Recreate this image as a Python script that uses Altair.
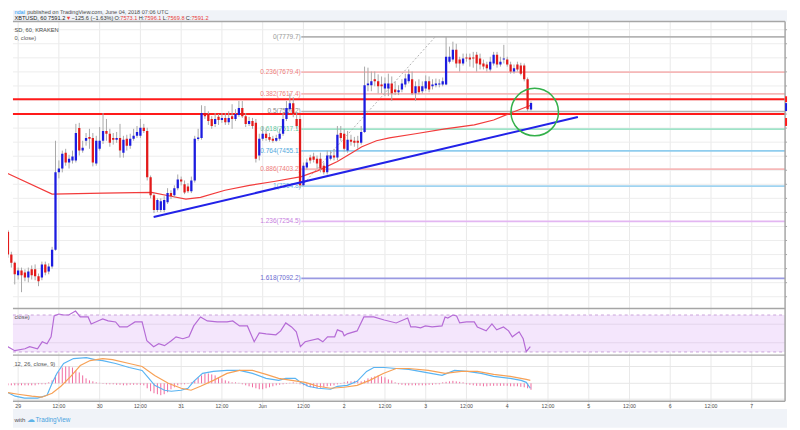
import altair as alt
import pandas as pd

# ---------------- scales: data units spanning the 792 x 422 drawing area ----------------
X_DOMAIN = [-1.5252, 226.388]      # hours since 29 May 2018 00:00 UTC
PRICE_DOMAIN = [6666.74, 7855.78]  # USD
RSI_DOMAIN = [-52.25, 400.29]
MACD_DOMAIN = [-90, 754]
XL, XR, XAX = X_DOMAIN[0], X_DOMAIN[1], 225.81   # XAX = price-axis line

# ---------------- candles (hourly, XBTUSD Kraken) ----------------
hours = list(range(-3, 152))
opens = [7225, 7160, 7137, 7101, 7115, 7109, 7095, 7118, 7118, 7098,
         7095, 7132, 7112, 7126, 7174, 7394, 7405, 7450, 7422, 7428,
         7428, 7520, 7456, 7484, 7495, 7492, 7419, 7461, 7484, 7512,
         7504, 7492, 7487, 7492, 7450, 7490, 7470, 7490, 7498, 7498,
         7521, 7512, 7380, 7329, 7287, 7287, 7287, 7309, 7335, 7329,
         7349, 7374, 7360, 7354, 7340, 7371, 7489, 7492, 7563, 7560,
         7546, 7532, 7552, 7543, 7549, 7537, 7554, 7546, 7557, 7577,
         7554, 7532, 7540, 7535, 7442, 7490, 7504, 7495, 7490, 7484,
         7490, 7504, 7546, 7574, 7591, 7546, 7546, 7357, 7408, 7436,
         7439, 7433, 7433, 7413, 7394, 7433, 7442, 7436, 7506, 7504,
         7456, 7487, 7484, 7484, 7478, 7509, 7642, 7642, 7659, 7653,
         7644, 7633, 7633, 7647, 7630, 7622, 7630, 7644, 7653, 7659,
         7619, 7639, 7625, 7633, 7653, 7639, 7642, 7644, 7644, 7644,
         7709, 7715, 7743, 7715, 7704, 7721, 7721, 7721, 7729, 7718,
         7704, 7701, 7687, 7704, 7729, 7701, 7715, 7715, 7701, 7681,
         7701, 7698, 7698, 7659, 7573.1]
highs = [7230, 7168, 7140, 7123, 7123, 7118, 7123, 7129, 7132, 7106,
         7140, 7140, 7135, 7182, 7484, 7428, 7456, 7461, 7444, 7456,
         7532, 7535, 7484, 7506, 7518, 7506, 7498, 7523, 7563, 7546,
         7518, 7506, 7509, 7532, 7498, 7501, 7504, 7518, 7526, 7546,
         7532, 7521, 7385, 7335, 7320, 7320, 7326, 7349, 7343, 7357,
         7388, 7382, 7371, 7363, 7382, 7498, 7518, 7585, 7583, 7568,
         7554, 7563, 7560, 7563, 7563, 7568, 7588, 7574, 7597, 7597,
         7563, 7552, 7549, 7546, 7504, 7526, 7518, 7506, 7498, 7501,
         7518, 7563, 7597, 7619, 7608, 7563, 7557, 7422, 7433, 7444,
         7450, 7442, 7450, 7422, 7456, 7456, 7461, 7526, 7526, 7518,
         7512, 7501, 7495, 7498, 7526, 7695, 7692, 7681, 7681, 7673,
         7667, 7664, 7675, 7667, 7653, 7642, 7659, 7675, 7687, 7681,
         7653, 7659, 7653, 7670, 7667, 7659, 7661, 7659, 7664, 7779.7,
         7752, 7766, 7760, 7723, 7732, 7732, 7732, 7737, 7737, 7732,
         7715, 7709, 7723, 7737, 7737, 7723, 7757, 7723, 7709, 7701,
         7709, 7706, 7704, 7664, 7596.1]
lows = [7151, 7123, 7075, 7089, 7053, 7084, 7081, 7089, 7087, 7070,
        7087, 7101, 7104, 7120, 7171, 7377, 7394, 7413, 7405, 7419,
        7422, 7442, 7450, 7470, 7461, 7411, 7413, 7456, 7475, 7484,
        7467, 7473, 7478, 7436, 7436, 7456, 7461, 7484, 7492, 7492,
        7506, 7371, 7320, 7278, 7281, 7281, 7281, 7304, 7318, 7323,
        7343, 7357, 7332, 7335, 7335, 7365, 7484, 7487, 7546, 7529,
        7518, 7523, 7529, 7535, 7529, 7529, 7518, 7540, 7552, 7549,
        7523, 7526, 7518, 7422, 7428, 7484, 7484, 7481, 7478, 7481,
        7484, 7498, 7540, 7568, 7551, 7518, 7349, 7354.8, 7402, 7419,
        7422, 7405, 7394, 7388, 7388, 7428, 7428, 7428, 7484, 7453,
        7450, 7470, 7467, 7461, 7473, 7506, 7625, 7625, 7639, 7619,
        7619, 7611, 7611, 7597, 7614, 7614, 7622, 7636, 7647, 7614,
        7597, 7616, 7619, 7625, 7622, 7630, 7636, 7636, 7639, 7642,
        7704, 7709, 7692, 7681, 7698, 7709, 7695, 7692, 7681, 7687,
        7687, 7681, 7681, 7698, 7692, 7695, 7704, 7695, 7675, 7675,
        7681, 7670, 7653, 7568, 7569.8]
closes = [7160, 7137, 7104, 7115, 7101, 7095, 7112, 7101, 7098, 7084,
          7132, 7109, 7126, 7174, 7394, 7405, 7447, 7422, 7433, 7439,
          7506, 7456, 7464, 7492, 7490, 7422, 7484, 7484, 7512, 7504,
          7478, 7487, 7492, 7456, 7487, 7470, 7490, 7498, 7509, 7521,
          7512, 7380, 7329, 7287, 7315, 7312, 7315, 7335, 7326, 7349,
          7374, 7368, 7337, 7340, 7371, 7490, 7493, 7563, 7554, 7540,
          7526, 7546, 7543, 7549, 7537, 7549, 7546, 7560, 7577, 7554,
          7532, 7540, 7526, 7433, 7490, 7504, 7492, 7487, 7484, 7492,
          7504, 7546, 7577, 7591, 7560, 7526, 7357, 7413, 7422, 7428,
          7430, 7419, 7405, 7394, 7442, 7442, 7436, 7501, 7492, 7461,
          7487, 7481, 7478, 7478, 7509, 7642, 7647, 7653, 7653, 7639,
          7639, 7647, 7647, 7619, 7622, 7628, 7647, 7661, 7673, 7619,
          7639, 7622, 7639, 7653, 7630, 7644, 7647, 7647, 7653, 7723,
          7723, 7743, 7704, 7704, 7718, 7718, 7715, 7718, 7704, 7701,
          7695, 7690, 7709, 7729, 7701, 7709, 7718, 7701, 7681, 7690,
          7687, 7675, 7659, 7574, 7591.2]
assert len(opens) == len(highs) == len(lows) == len(closes) == len(hours)

# ---------------- moving average ----------------
ma_hours = [-3.8, 10.0, 25.0, 39.3, 45.0, 49.4, 53.7, 60.9, 68.1, 75.3, 83.4, 88.3,
            94.0, 98.3, 101.2, 105.5, 109.3, 117.0, 125.7, 134.3, 140.0, 145.0, 149.6, 151.0]
ma_values = [7394, 7332, 7335, 7337, 7326, 7318, 7323, 7343, 7357, 7368, 7382, 7399,
             7425, 7450, 7467, 7484, 7492, 7504, 7518, 7529, 7543, 7563, 7580, 7585]

# ---------------- Fibonacci retracement ----------------
fib_labels = ["0(7779.7)", "0.236(7679.4)", "0.382(7617.4)", "0.5(7567.2)", "0.618(7517.1)",
              "0.764(7455.1)", "0.886(7403.2)", "1(7354.8)", "1.236(7254.5)", "1.618(7092.2)"]
fib_prices = [7779.7, 7679.4, 7617.4, 7567.2, 7517.1, 7455.1, 7403.2, 7354.8, 7254.5, 7092.2]
fib_line_colors = ["#b4b4b4", "#f6b8b8", "#f6b8b8", "#b4b4b4", "#9fe3c8",
                   "#8fcdee", "#f6b8b8", "#9fd3f0", "#e3b6f2", "#9a9ae2"]
fib_text_colors = ["#9a9a9a", "#ef7d7d", "#ef7d7d", "#8a8a8a", "#5cc79c",
                   "#55a9dc", "#ef7d7d", "#68b6e4", "#c77ee0", "#6a6ad0"]
fib_start, fib_end = 83.37, XAX
fib_swing_hours = [83.4, 122.8]
fib_swing_prices = [7354.8, 7779.7]

# ---------------- user drawings ----------------
red_levels = [7602, 7560]
trend_hours = [39.9, 164.8]
trend_prices = [7266.9, 7551.5]
circle_hour, circle_price = 152.1, 7565.6

# ---------------- RSI ----------------
rsi_hours = [-3.8, -3.0, -1.0, 2.0, 3.4, 5.7, 7.1, 8.5, 9.7, 10.6, 12.0, 13.4, 14.9, 16.9, 18.3,
             20.6, 21.5, 23.5, 24.9, 26.5, 28.7, 29.9, 31.3, 32.1, 34.4, 36.5, 37.9, 39.9, 41.4,
             43.1, 45.1, 46.5, 48.5, 50.3, 51.7, 53.7, 55.7, 58.6, 61.5, 63.2, 65.2, 67.5, 69.5,
             71.0, 73.0, 75.9, 77.3, 78.8, 80.5, 81.9, 83.1, 84.5, 88.3, 89.7, 91.1, 93.2, 94.0,
             95.5, 96.0, 96.9, 99.8, 101.8, 104.7, 107.8, 111.3, 114.7, 115.6, 117.0, 118.5,
             119.9, 121.9, 124.8, 125.7, 126.5, 128.0, 129.1, 130.0, 132.0, 134.3, 135.2, 137.8,
             139.5, 140.9, 142.9, 144.4, 145.5, 147.5, 148.7, 149.6, 150.8]
rsi_values = [40.0, 35.7, 31.4, 33.5, 35.7, 33.5, 41.0, 38.9, 46.4, 68.9, 71.1, 70.0, 70.0, 74.3,
              67.9, 67.9, 60.3, 63.6, 65.7, 63.6, 62.5, 57.1, 57.1, 57.1, 62.5, 62.5, 42.1, 35.7,
              38.9, 36.8, 42.1, 46.4, 44.3, 46.4, 58.2, 67.9, 63.6, 62.5, 62.5, 63.6, 58.2, 58.2,
              41.0, 50.7, 49.6, 48.6, 52.8, 61.4, 57.1, 51.8, 35.7, 41.0, 44.3, 41.0, 46.4, 46.4,
              53.9, 51.8, 47.5, 49.6, 52.8, 67.9, 67.9, 64.6, 61.4, 66.8, 57.1, 57.1, 56.1, 58.2,
              57.1, 58.2, 67.9, 66.8, 70.0, 68.9, 61.4, 62.5, 62.5, 57.1, 52.8, 60.3, 53.9, 57.1,
              52.8, 46.4, 51.8, 44.3, 30.3, 35.7]

# ---------------- MACD (12, 26, close, 9) ----------------
macd_hours = [-3.8, -0.9, 1.9, 5.7, 8.5, 10.0, 11.4, 13.4, 16.3, 20.1, 22.6, 24.9, 28.7, 32.7,
              36.5, 38.5, 40.2, 43.1, 45.1, 48.0, 50.0, 51.7, 54.3, 57.5, 61.5, 65.2, 69.0, 73.0,
              76.7, 78.8, 81.6, 83.1, 85.4, 88.3, 92.0, 94.0, 96.9, 99.8, 102.6, 104.7, 107.8,
              111.3, 115.0, 119.9, 124.8, 128.5, 132.3, 136.3, 140.0, 144.9, 148.1, 149.6, 150.8]
macd_values = [-16, -26, -30, -30, -24, 0, 20, 40, 50, 52, 48, 46, 40, 32, 26, 10, -4, -14, -16,
               -14, -10, 4, 20, 24, 26, 26, 20, 10, 6, 10, 10, 2, -6, -10, -12, -6, -4, 4, 24, 32,
               32, 30, 28, 22, 16, 26, 24, 20, 14, 10, 6, 2, -10]
sig_hours = [-3.8, 0.0, 4.0, 7.0, 10.0, 12.6, 15.5, 18.3, 21.2, 24.9, 27.8, 32.7, 36.5, 40.2,
             44.2, 48.0, 50.9, 53.7, 57.5, 61.5, 65.2, 69.0, 73.0, 76.7, 80.5, 84.5, 88.3, 92.0,
             96.0, 99.8, 103.5, 107.5, 111.3, 115.0, 120.8, 125.7, 130.5, 135.2, 140.0, 144.9,
             149.6, 150.8]
sig_values = [-18, -22, -26, -28, -20, -6, 14, 36, 46, 50, 48, 40, 34, 16, 0, -10, -14, -6, 6,
              20, 26, 26, 18, 10, 6, 2, -6, -10, -8, -4, 6, 20, 30, 30, 26, 20, 24, 24, 18, 14,
              8, 6]
hist_values = ([-4] * 9 + [-2, -2, -2] + [2] +
               [6, 16, 24, 32, 34, 34, 32, 26, 22, 16, 10, 6, 4, 2, 1] +
               [-1, -2, -2, -2, -3, -3, -4, -4, -3, -3, -3, -3, -4] +
               [-10, -16, -20, -22, -24, -22, -18, -12, -8, -4, -2, -2, -1] +
               [2, 6, 12, 16, 20, 20, 18, 16, 12, 10, 6, 4, 2, 2, 1] +
               [-2, -4, -6, -8, -10, -12, -12, -10, -8, -6, -4, -3, -2, -1, 1] +
               [2, 1, -2] +
               [-4, -6, -8, -9, -10, -9, -8, -6, -5, -4, -2, -1] +
               [2, 4, 4, 5, 5, 4] +
               [6, 10, 12, 14, 16, 14, 12, 8, 6, 2] +
               [-2, -3, -4, -4, -4, -4, -4, -4, -4, -3, -3, -2, -2] +
               [2, 3, 4, 5, 4, 3, 2] +
               [-2, -3, -4, -5, -5, -6, -6, -5, -5, -5, -5, -5, -5, -6, -6, -6, -7, -8, -10, -13])
assert len(hist_values) == len(hours)

# ---------------- axes / grid ----------------
time_ticks = [0, 12, 24, 36, 48, 60, 72, 84, 96, 108, 120, 132, 144, 156, 168, 180, 192, 204, 216]
time_labels = ["29", "12:00", "30", "12:00", "31", "12:00", "Jun", "12:00", "2", "12:00",
               "3", "12:00", "4", "12:00", "5", "12:00", "6", "12:00", "7"]
grid_prices = [7040, 7080, 7120, 7160, 7200, 7240, 7280, 7320, 7360, 7400, 7440, 7480,
               7520, 7560, 7600, 7640, 7680, 7720, 7760, 7800]
rsi_grid = [60, 40]
macd_grid = [34, 0, -32]
pane_lines = [7823.4, 7006.3, 6873.8, 6742.8]   # top border, RSI / MACD separators, time axis

FONT = "Liberation Sans"


def xq(f):
    return alt.X(f"{f}:Q", scale=alt.Scale(domain=X_DOMAIN, nice=False, zero=False), axis=None)


def yq(f, dom):
    return alt.Y(f"{f}:Q", scale=alt.Scale(domain=dom, nice=False, zero=False), axis=None)


layers = []

# background bars (header / footer)
bars = pd.DataFrame({"h0": [XL, XL], "h1": [XR, XR], "p0": [7823.4, 6666.74], "p1": [7855.78, 6720.2]})
layers.append(alt.Chart(bars).mark_rect(color="#f0f3f8").encode(
    x=xq("h0"), x2="h1", y=yq("p0", PRICE_DOMAIN), y2="p1"))

# vertical grid
vg = pd.DataFrame({"h": time_ticks, "p0": 6720.2, "p1": 7823.4})
layers.append(alt.Chart(vg).mark_rule(color="#e9e9e9", strokeWidth=1).encode(
    x=xq("h"), y=yq("p0", PRICE_DOMAIN), y2="p1"))
# price grid
pg = pd.DataFrame({"p": grid_prices, "h0": XL, "h1": XAX})
layers.append(alt.Chart(pg).mark_rule(color="#ededed", strokeWidth=1).encode(
    x=xq("h0"), x2="h1", y=yq("p", PRICE_DOMAIN)))
# RSI band and grid
band = pd.DataFrame({"h0": [XL], "h1": [XAX], "r0": [30], "r1": [70]})
layers.append(alt.Chart(band).mark_rect(color="#f4e6fc").encode(
    x=xq("h0"), x2="h1", y=yq("r0", RSI_DOMAIN), y2="r1"))
rg = pd.DataFrame({"r": rsi_grid, "h0": XL, "h1": XAX})
layers.append(alt.Chart(rg).mark_rule(color="#e4d4ec", strokeWidth=1).encode(
    x=xq("h0"), x2="h1", y=yq("r", RSI_DOMAIN)))
rd = pd.DataFrame({"r": [70, 30], "h0": XL, "h1": XAX})
layers.append(alt.Chart(rd).mark_rule(color="#c9a3da", strokeWidth=1, strokeDash=[3, 3]).encode(
    x=xq("h0"), x2="h1", y=yq("r", RSI_DOMAIN)))
mg = pd.DataFrame({"v": macd_grid, "h0": XL, "h1": XAX})
layers.append(alt.Chart(mg).mark_rule(color="#e6e6e6", strokeWidth=1).encode(
    x=xq("h0"), x2="h1", y=yq("v", MACD_DOMAIN)))

# Fibonacci levels
fib = pd.DataFrame({"lab": fib_labels, "p": fib_prices, "lc": fib_line_colors, "tc": fib_text_colors,
                    "h0": fib_start, "h1": fib_end, "ht": fib_start - 0.15})
layers.append(alt.Chart(fib).mark_rule(strokeWidth=1.6).encode(
    x=xq("h0"), x2="h1", y=yq("p", PRICE_DOMAIN), color=alt.Color("lc:N", scale=None)))
layers.append(alt.Chart(fib).mark_text(align="right", baseline="middle", font=FONT, fontSize=6.6).encode(
    x=xq("ht"), y=yq("p", PRICE_DOMAIN), text="lab:N", color=alt.Color("tc:N", scale=None)))
swing = pd.DataFrame({"h": fib_swing_hours, "p": fib_swing_prices})
layers.append(alt.Chart(swing).mark_line(color="#b2b2b2", strokeWidth=1, strokeDash=[2, 2]).encode(
    x=xq("h"), y=yq("p", PRICE_DOMAIN)))

# red horizontal levels
rl = pd.DataFrame({"p": red_levels, "h0": XL, "h1": XAX})
layers.append(alt.Chart(rl).mark_rule(color="#ff1a1a", strokeWidth=2).encode(
    x=xq("h0"), x2="h1", y=yq("p", PRICE_DOMAIN)))

# moving average
ma = pd.DataFrame({"h": ma_hours, "p": ma_values})
layers.append(alt.Chart(ma).mark_line(color="#f23b3b", strokeWidth=1.2, clip=True).encode(
    x=xq("h"), y=yq("p", PRICE_DOMAIN)))

# candles
cd = pd.DataFrame({"h": hours, "o": opens, "hi": highs, "lo": lows, "c": closes})
cd["col"] = ["#1c1ce0" if c >= o else "#e31a1a" for o, c in zip(opens, closes)]
layers.append(alt.Chart(cd).mark_rule(color="#a8a8a8", strokeWidth=1, clip=True).encode(
    x=xq("h"), y=yq("lo", PRICE_DOMAIN), y2="hi"))
layers.append(alt.Chart(cd).mark_bar(size=2.3, clip=True).encode(
    x=xq("h"), y=yq("o", PRICE_DOMAIN), y2="c", color=alt.Color("col:N", scale=None)))

# trend line and circle
tl = pd.DataFrame({"h": trend_hours, "p": trend_prices})
layers.append(alt.Chart(tl).mark_line(color="#2222e8", strokeWidth=2).encode(
    x=xq("h"), y=yq("p", PRICE_DOMAIN)))
circ = pd.DataFrame({"h": [circle_hour], "p": [circle_price]})
layers.append(alt.Chart(circ).mark_point(shape="circle", size=2304, filled=False,
                                         color="#33b04a", strokeWidth=1.5, opacity=1).encode(
    x=xq("h"), y=yq("p", PRICE_DOMAIN)))

# RSI line
rsi = pd.DataFrame({"h": rsi_hours, "r": rsi_values})
layers.append(alt.Chart(rsi).mark_line(color="#b56bd6", strokeWidth=1.2, clip=True).encode(
    x=xq("h"), y=yq("r", RSI_DOMAIN)))

# MACD
hist = pd.DataFrame({"h": hours, "v": hist_values, "z": 0})
layers.append(alt.Chart(hist).mark_rule(color="#f06a9f", strokeWidth=1, clip=True).encode(
    x=xq("h"), y=yq("v", MACD_DOMAIN), y2="z"))
macd = pd.DataFrame({"h": macd_hours, "v": macd_values})
layers.append(alt.Chart(macd).mark_line(color="#5ab4f2", strokeWidth=1.2, clip=True).encode(
    x=xq("h"), y=yq("v", MACD_DOMAIN)))
sig = pd.DataFrame({"h": sig_hours, "v": sig_values})
layers.append(alt.Chart(sig).mark_line(color="#f7a156", strokeWidth=1.2, clip=True).encode(
    x=xq("h"), y=yq("v", MACD_DOMAIN)))

# pane borders and price axis line
pl = pd.DataFrame({"p": pane_lines, "h0": XL, "h1": XAX})
layers.append(alt.Chart(pl).mark_rule(color="#a6a6a6", strokeWidth=1.5).encode(
    x=xq("h0"), x2="h1", y=yq("p", PRICE_DOMAIN)))
ax = pd.DataFrame({"h": [XAX], "p0": [6742.8], "p1": [7823.4]})
layers.append(alt.Chart(ax).mark_rule(color="#a6a6a6", strokeWidth=1.5).encode(
    x=xq("h"), y=yq("p0", PRICE_DOMAIN), y2="p1"))
tk = pd.DataFrame({"p": grid_prices, "h0": XAX, "h1": XR})
layers.append(alt.Chart(tk).mark_rule(color="#a6a6a6", strokeWidth=1).encode(
    x=xq("h0"), x2="h1", y=yq("p", PRICE_DOMAIN)))
# price-label stubs at the right edge (labels themselves are cut off)
stub = pd.DataFrame({"h0": XAX, "h1": XR, "p0": [7593.7, 7568.4, 7526.1], "p1": [7610.6, 7591.2, 7548.7],
                     "col": ["#ff1a1a", "#1c1ce0", "#ff1a1a"]})
layers.append(alt.Chart(stub).mark_rect().encode(
    x=xq("h0"), x2="h1", y=yq("p0", PRICE_DOMAIN), y2="p1", color=alt.Color("col:N", scale=None)))

# time-axis labels
tlab = pd.DataFrame({"h": time_ticks, "lab": time_labels, "p": 6728.7})
layers.append(alt.Chart(tlab).mark_text(align="center", baseline="middle", font=FONT, fontSize=5.2,
                                        color="#4d4d4d", clip=True).encode(
    x=xq("h"), y=yq("p", PRICE_DOMAIN), text="lab:N"))

# header, legends and footer (texts as visible in the snapshot)
hdr = pd.DataFrame({
    "h": [-1.09, 2.65,
          -1.09, 14.01, 15.74, 28.35, 30.07, 35.51, 37.15, 42.59, 43.94, 49.38, 51.02,
          -1.09, -1.09, -1.09, 3.65, 5.09],
    "p": [7850.1] * 2 + [7834.6] * 11 + [7799.4, 7776.9] + [6689.3] * 3,
    "txt": ["ndal", "published on TradingView.com, June 04, 2018 07:06 UTC",
            "XBTUSD, 60 7591.2", "\u25bc", "\u2212125.6 (\u22121.63%)", "O:", "7573.1", "H:", "7596.1",
            "L:", "7569.8", "C:", "7591.2",
            "SD, 60, KRAKEN", "0, close)", "with", "\u2601", "TradingView"],
    "al": ["left"] * 16 + ["center", "left"],
    "col": ["#2196f3", "#4a4a4a", "#222222", "#e8403a", "#333333", "#333333", "#e8403a", "#333333",
            "#e8403a", "#333333", "#e8403a", "#333333", "#e8403a", "#4a4a4a", "#5a5a5a", "#555555",
            "#5fb3e8", "#4aa3e0"],
    "fs": [5.6, 5.6] + [5.67] * 11 + [5.8, 5.8, 6.2, 8, 6.4],
})
for al in ["left", "center"]:
    sub = hdr[hdr["al"] == al]
    layers.append(alt.Chart(sub).mark_text(align=al, baseline="middle", font=FONT, clip=True).encode(
        x=xq("h"), y=yq("p", PRICE_DOMAIN), text="txt:N",
        color=alt.Color("col:N", scale=None), size=alt.Size("fs:Q", scale=None)))

# pane legends for RSI / MACD
rl_t = pd.DataFrame({"h": [-1.09], "r": [67.9], "t": ["close)"]})
layers.append(alt.Chart(rl_t).mark_text(align="left", baseline="middle", font=FONT, fontSize=5.8,
                                        color="#555555", clip=True).encode(
    x=xq("h"), y=yq("r", RSI_DOMAIN), text="t:N"))
ml_t = pd.DataFrame({"h": [-1.09], "v": [40], "t": ["12, 26, close, 9)"]})
layers.append(alt.Chart(ml_t).mark_text(align="left", baseline="middle", font=FONT, fontSize=5.8,
                                        color="#555555", clip=True).encode(
    x=xq("h"), y=yq("v", MACD_DOMAIN), text="t:N"))

chart = (alt.layer(*layers)
         .resolve_scale(y="independent")
         .properties(width=792, height=422, padding=0, autosize=alt.AutoSizeParams(type="none"),
                     background="white")
         .configure_view(strokeWidth=0))

chart.save("out.html", embed_options={"renderer": "svg", "actions": False})
